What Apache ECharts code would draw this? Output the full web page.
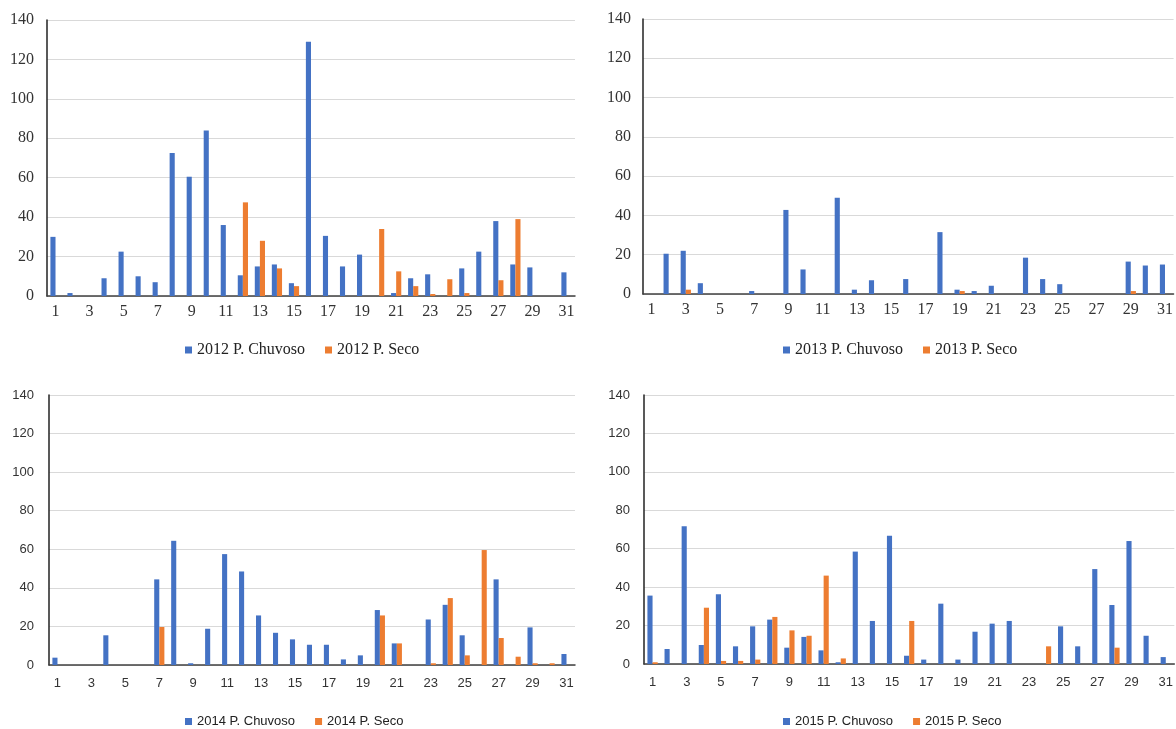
<!DOCTYPE html>
<html>
<head>
<meta charset="utf-8">
<script src="https://cdn.jsdelivr.net/npm/echarts@6/dist/echarts.min.js"></script>
<style>
  html, body { margin: 0; padding: 0; background: #fff; }
  #main { width: 1176px; height: 729px; }
</style>
</head>
<body>
<div id="main"></div>
<script>
// dias do mes
var days = ['1','2','3','4','5','6','7','8','9','10','11','12','13','14','15','16',
            '17','18','19','20','21','22','23','24','25','26','27','28','29','30','31'];
var yTicks = [0, 20, 40, 60, 80, 100, 120, 140];

// 2012
var chuvoso2012 = [30,1.5,0,9,22.5,10,7,72.5,60.5,84,36,10.5,15,16,6.5,129,30.5,15,21,0,1.5,9,11,0,14,22.5,38,16,14.5,0,12];
var seco2012    = [0,0,0,0,0,0,0,0,0,0,0,47.5,28,14,5,0,0,0,0,34,12.5,5,1,8.5,1.5,0,8,39,0,0,0];
// 2013
var chuvoso2013 = [0,20.5,22,5.5,0,0,1.5,0,42.8,12.5,0,49,2.2,7,0,7.6,0,31.5,2.2,1.5,4.2,0,18.5,7.6,5,0,0,0,16.5,14.5,15];
var seco2013    = [0,0,2.2,0,0,0,0,0,0,0,0,0,0,0,0,0,0,0,1.5,0,0,0,0,0,0,0,0,0,1.5,0,0];
// 2014
var chuvoso2014 = [3.8,0,0,15.4,0,0,44.4,64.4,0.9,18.8,57.5,48.5,25.7,16.7,13.3,10.5,10.5,2.9,5,28.5,11.2,0,23.6,31.2,15.4,0,44.4,0,19.5,0,5.7];
var seco2014    = [0,0,0,0,0,0,19.7,0,0,0,0,0,0,0,0,0,0,0,0,25.7,11.2,0,0.9,34.7,5,59.6,14,4.3,0.9,0.9,0];
// 2015
var chuvoso2015 = [35.6,7.8,71.7,9.9,36.3,9.2,19.6,23.1,8.5,14.1,7.1,0.9,58.5,22.4,66.8,4.3,2.3,31.4,2.3,16.8,21,22.4,0,0,19.6,9.2,49.4,30.7,64,14.7,3.6];
var seco2015    = [0.9,0,0,29.3,1.6,1.6,2.3,24.5,17.5,14.7,46,2.9,0,0,0,22.4,0,0,0,0,0,0,0,9.2,0,0,0,8.5,0,0,0];

var BLUE = '#4472C4';
var ORANGE = '#ED7D31';

// um painel por ano
var panels = [
    {year: '2012', c: chuvoso2012, s: seco2012, grid: {left: 47, top: 20, width: 528, height: 276},
     font: '"Liberation Serif", serif', size: 16, legLeft: 180, legTop: 337, yMargin: 13, xMargin: 8},
    {year: '2013', c: chuvoso2013, s: seco2013, grid: {left: 643, top: 19, width: 531, height: 275},
     font: '"Liberation Serif", serif', size: 16, legLeft: 778, legTop: 337, yMargin: 12, xMargin: 8},
    {year: '2014', c: chuvoso2014, s: seco2014, grid: {left: 49, top: 395, width: 526, height: 270},
     font: '"Liberation Sans", sans-serif', size: 13, legLeft: 180, legTop: 710, yMargin: 15, xMargin: 12},
    {year: '2015', c: chuvoso2015, s: seco2015, grid: {left: 644, top: 395, width: 531, height: 269},
     font: '"Liberation Sans", sans-serif', size: 13, legLeft: 778, legTop: 710, yMargin: 14, xMargin: 12}
];

var grids = [], xAxes = [], yAxes = [], legends = [], series = [];
for (var i = 0; i < panels.length; i++) {
    var p = panels[i];
    grids.push(p.grid);
    xAxes.push({
        type: 'category',
        gridIndex: i,
        data: days,
        axisLine: {lineStyle: {color: '#404040', width: 1.5}},
        axisTick: {show: false},
        axisLabel: {interval: 1, color: '#333', fontFamily: p.font, fontSize: p.size, margin: p.xMargin}
    });
    yAxes.push({
        type: 'value',
        gridIndex: i,
        min: yTicks[0],
        max: yTicks[yTicks.length - 1],
        interval: 20,
        axisLine: {show: true, lineStyle: {color: '#222', width: 1.5}},
        axisTick: {show: false},
        splitLine: {lineStyle: {color: '#d9d9d9', width: 1.2}},
        axisLabel: {color: '#333', fontFamily: p.font, fontSize: p.size, margin: p.yMargin}
    });
    legends.push({
        data: [p.year + ' P. Chuvoso', p.year + ' P. Seco'],
        left: p.legLeft,
        top: p.legTop,
        icon: 'rect',
        itemWidth: 7,
        itemHeight: 7,
        itemGap: 20,
        textStyle: {color: '#222', fontFamily: p.font, fontSize: p.size}
    });
    series.push({
        name: p.year + ' P. Chuvoso',
        type: 'bar',
        xAxisIndex: i,
        yAxisIndex: i,
        data: p.c,
        itemStyle: {color: BLUE},
        barGap: '0%',
        barCategoryGap: '40%'
    });
    series.push({
        name: p.year + ' P. Seco',
        type: 'bar',
        xAxisIndex: i,
        yAxisIndex: i,
        data: p.s,
        itemStyle: {color: ORANGE},
        barGap: '0%',
        barCategoryGap: '40%'
    });
}

var myChart = echarts.init(document.getElementById('main'));
myChart.setOption({
    animation: false,
    backgroundColor: '#fff',
    grid: grids,
    xAxis: xAxes,
    yAxis: yAxes,
    legend: legends,
    series: series
});
</script>
</body>
</html>
